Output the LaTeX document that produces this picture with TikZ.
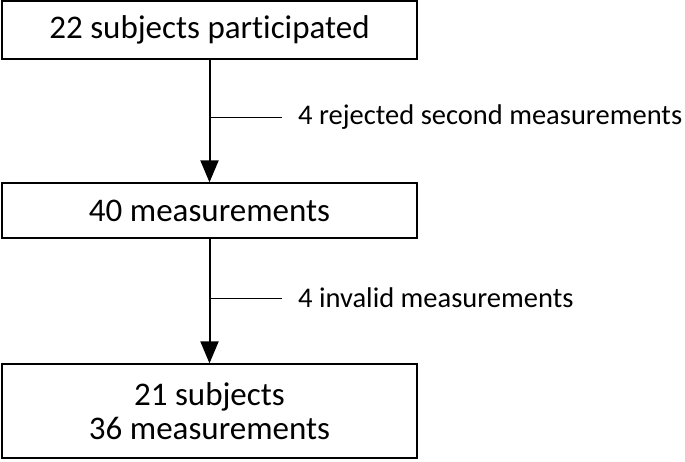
\documentclass[tikz,border=0pt]{standalone}
\usepackage{fontspec}
\setmainfont[Ligatures=NoCommon]{Carlito}
\usetikzlibrary{arrows.meta,positioning}

\begin{document}
\begin{tikzpicture}[x=1pt,y=-1pt,
    stagebox/.style={draw,line width=1.3pt,minimum width=415pt,inner sep=0pt,font=\fontsize{33}{34}\selectfont,align=center},
    flow/.style={line width=2pt,-{Triangle[width=18pt,length=22pt]}},
    excl/.style={right,inner sep=0pt,font=\fontsize{28.5}{30}\selectfont}]
        \useasboundingbox (0,0) rectangle (685,461);
        \node[stagebox,minimum height=58pt] (all) at (209.5,30) {22 subjects participated};
        \node[stagebox,minimum height=55pt] (meas) at (209.5,210.5) {40 measurements};
        \node[stagebox,minimum height=94pt] (final) at (209.5,411) {21 subjects\\36 measurements};
        \draw[flow] (all) -- (meas);
        \draw[flow] (meas) -- (final);
        \coordinate (cut1) at (209.5,117);
        \coordinate (cut2) at (209.5,298);
        \node[excl] (rej) at (298,117) {4 rejected second measurements};
        \node[excl] (inv) at (298,298) {4 invalid measurements};
        \draw[line width=1pt] (cut1) -- ([xshift=-16pt]rej.west);
        \draw[line width=1pt] (cut2) -- ([xshift=-16pt]inv.west);
    \end{tikzpicture}
\end{document}
